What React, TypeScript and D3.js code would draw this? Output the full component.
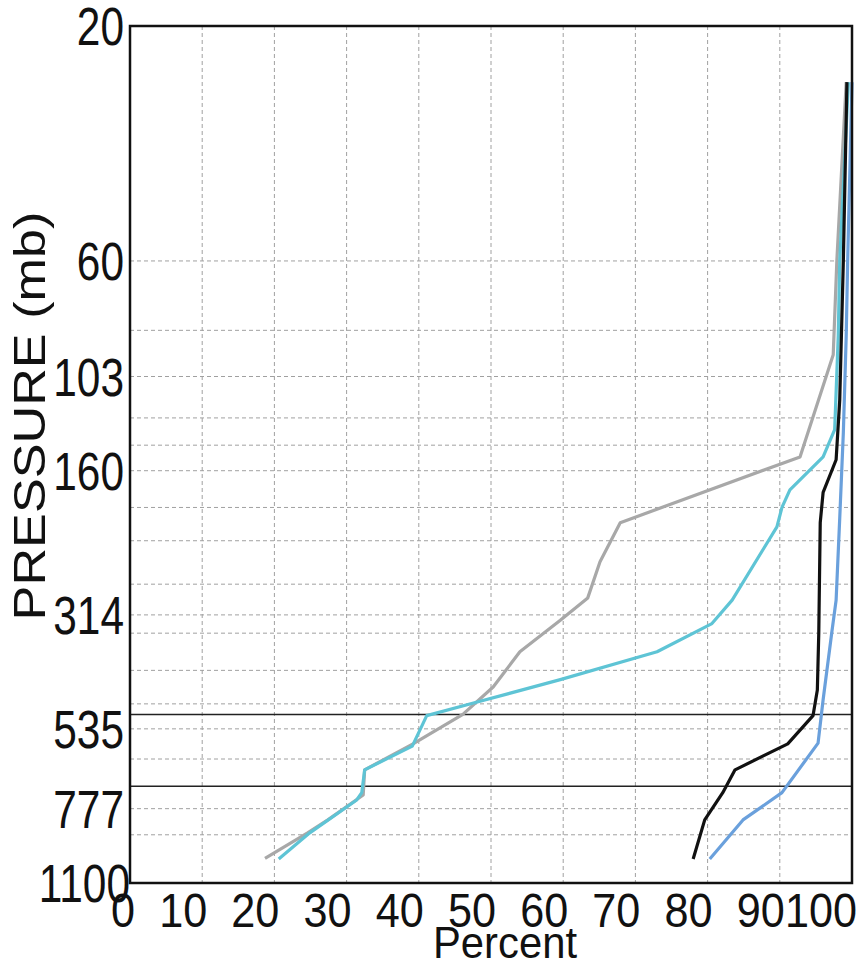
import React from "react";
import * as d3 from "d3";

// Axis definitions
const PRESSURE_TICKS = [20, 60, 103, 160, 314, 535, 777, 1100];
const PRESSURE_GRID = [60, 83, 103, 125, 142, 160, 190, 222, 272, 314, 342, 407, 476, 535, 616, 777, 878];
const REFERENCE_LEVELS = [500, 700];
const PERCENT_TICKS = [0, 10, 20, 30, 40, 50, 60, 70, 80, 90, 100];
const PERCENT_GRID = [10, 20, 30, 40, 50, 60, 70, 80, 90];

// Profiles: pressure (mb) and percent
const grayPressure = [980, 870, 819, 729, 648, 574, 500, 440, 373, 322, 290, 245, 204, 150, 93, 60, 26];
const grayPercent = [18.7, 24.6, 27.4, 32.3, 32.5, 39.2, 46.1, 50.3, 54.0, 59.6, 63.4, 65.1, 67.9, 92.8, 97.4, 97.9, 99.2];

const cyanPressure = [983, 870, 746, 721, 648, 580, 503, 472, 425, 373, 327, 293, 208, 190, 175, 150, 132, 85, 60, 26];
const cyanPercent = [20.6, 24.9, 31.4, 32.1, 32.5, 39.1, 41.1, 48.1, 59.6, 73.0, 80.6, 83.4, 89.6, 90.3, 91.4, 96.0, 97.6, 98.1, 98.3, 99.5];

const bluePressure = [983, 819, 721, 572, 467, 341, 293, 200, 134, 85, 60, 26];
const bluePercent = [80.3, 84.9, 90.3, 95.3, 96.0, 97.2, 97.8, 98.3, 98.8, 99.2, 99.4, 100];

const blackPressure = [983, 819, 721, 648, 574, 503, 446, 341, 204, 177, 152, 115, 60, 26];
const blackPercent = [78.0, 79.6, 82.1, 83.8, 91.1, 94.6, 95.2, 95.4, 95.6, 96.0, 97.8, 98.3, 98.8, 99.3];

const SERIES = [
  { name: "gray", pressure: grayPressure, percent: grayPercent, color: "#a8a8a8" },
  { name: "cyan", pressure: cyanPressure, percent: cyanPercent, color: "#5ec4d5" },
  { name: "blue", pressure: bluePressure, percent: bluePercent, color: "#6aa0dc" },
  { name: "black", pressure: blackPressure, percent: blackPercent, color: "#111111" },
];

const W = 866;
const H = 963;
const M = { left: 130, right: 852, top: 26, bottom: 883 };
const FONT = "'Liberation Sans', Arial, Helvetica, sans-serif";

export default function App() {
  const x = d3.scaleLinear().domain([0, 100]).range([M.left, M.right]);
  const y = d3.scaleLog().domain([20, 1100]).range([M.top, M.bottom]);

  const line = d3
    .line<[number, number]>()
    .x((d) => x(d[1]))
    .y((d) => y(d[0]));

  return (
    <svg
      width={W}
      height={H}
      style={{ position: "absolute", left: 0, top: 0, background: "#fff" }}
      fontFamily={FONT}
    >
      <rect x={0} y={0} width={W} height={H} fill="#fff" />

      {/* dashed grid */}
      <g stroke="#a0a0a0" strokeWidth={1} strokeDasharray="4,3" fill="none">
        {PERCENT_GRID.map((v) => (
          <line key={"vx" + v} x1={x(v)} x2={x(v)} y1={M.top} y2={M.bottom} />
        ))}
        {PRESSURE_GRID.map((p) => (
          <line key={"hy" + p} x1={M.left} x2={M.right} y1={y(p)} y2={y(p)} />
        ))}
      </g>

      {/* reference levels */}
      <g stroke="#222" strokeWidth={1.5}>
        {REFERENCE_LEVELS.map((p) => (
          <line key={"ref" + p} x1={M.left} x2={M.right} y1={y(p)} y2={y(p)} />
        ))}
      </g>

      {/* profiles */}
      {SERIES.map((s) => (
        <path
          key={s.name}
          d={line(s.pressure.map((p, i) => [p, s.percent[i]] as [number, number])) || ""}
          fill="none"
          stroke={s.color}
          strokeWidth={3.2}
          strokeLinejoin="round"
        />
      ))}

      {/* frame */}
      <rect
        x={M.left}
        y={M.top}
        width={M.right - M.left}
        height={M.bottom - M.top}
        fill="none"
        stroke="#111"
        strokeWidth={2.5}
      />

      {/* pressure tick labels */}
      {PRESSURE_TICKS.map((p) => (
        <text
          key={"yt" + p}
          transform={`translate(${p === 1100 ? 130 : 124},${y(p) + 19}) scale(0.8,1)`}
          textAnchor="end"
          fontSize={53}
          fill="#111"
        >
          {p}
        </text>
      ))}

      {/* percent tick labels */}
      {PERCENT_TICKS.map((v) => (
        <text
          key={"xt" + v}
          transform={`translate(${x(v) + 5},927) scale(0.9,1)`}
          textAnchor="end"
          fontSize={48}
          fill="#111"
        >
          {v}
        </text>
      ))}

      {/* axis titles */}
      <text
        transform="translate(45,416) rotate(-90) scale(1.16,1)"
        textAnchor="middle"
        fontSize={45}
        fill="#111"
      >
        PRESSURE (mb)
      </text>
      <text
        transform="translate(505,958) scale(0.95,1)"
        textAnchor="middle"
        fontSize={44}
        fill="#111"
      >
        Percent
      </text>
    </svg>
  );
}
